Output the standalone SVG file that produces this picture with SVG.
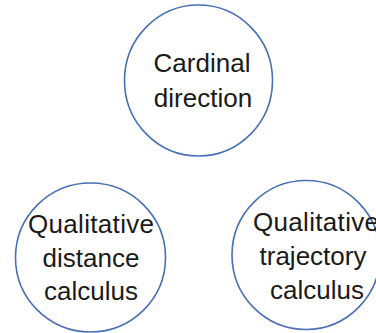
<svg xmlns="http://www.w3.org/2000/svg" width="376" height="333" viewBox="0 0 376 333">
<style>
.node ellipse{fill:#fff;stroke:#4a6fb5;stroke-width:1.6}
.node text{font-family:"Liberation Sans",Arial,sans-serif;font-size:26px;fill:#1a1a1a;text-anchor:middle}
</style>
<rect width="376" height="333" fill="#fff"/>
<g id="connectors"></g>
<g id="cardinal" class="node">
<ellipse cx="198.5" cy="80.5" rx="74" ry="75.5"/>
<text x="202" y="72">Cardinal</text>
<text x="203" y="107">direction</text>
</g>
<g id="distance" class="node">
<ellipse cx="90.5" cy="257.5" rx="75" ry="74.5"/>
<text x="91" y="233" textLength="126" lengthAdjust="spacing">Qualitative</text>
<text x="91" y="267">distance</text>
<text x="91" y="300">calculus</text>
</g>
<g id="trajectory" class="node">
<ellipse cx="306" cy="255" rx="74" ry="74.5"/>
<text x="316" y="231" textLength="126" lengthAdjust="spacing">Qualitative</text>
<text x="313" y="265">trajectory</text>
<text x="317" y="299">calculus</text>
</g>
</svg>
